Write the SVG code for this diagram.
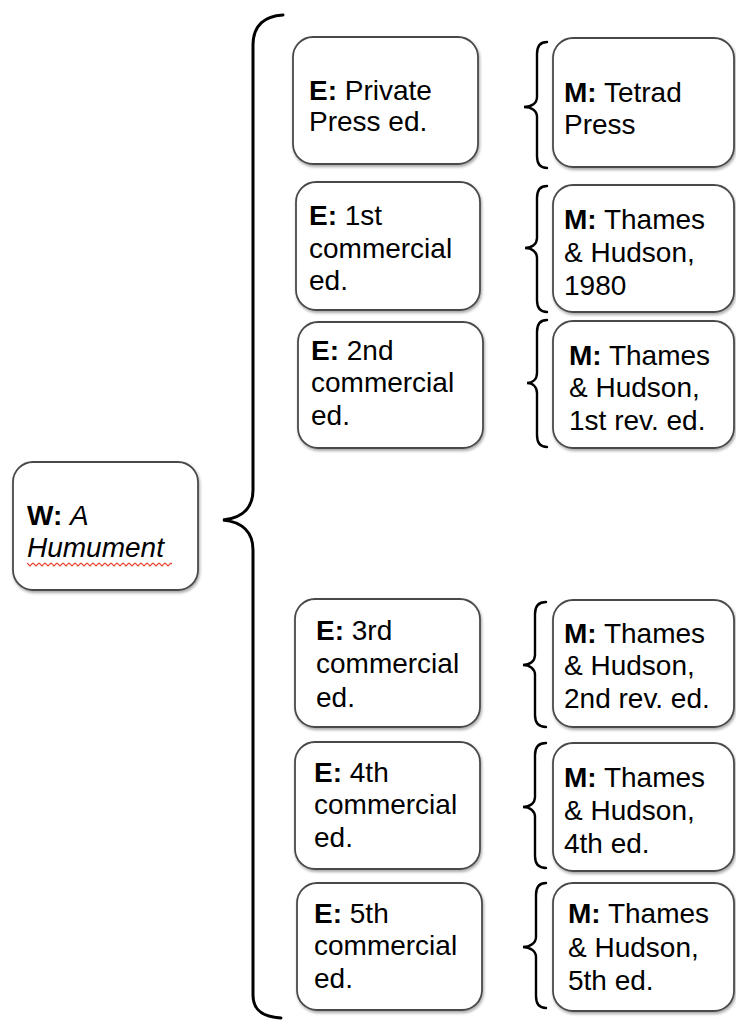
<svg xmlns="http://www.w3.org/2000/svg" width="736" height="1021" viewBox="0 0 736 1021">
<defs>
<filter id="sh" x="-10%" y="-10%" width="130%" height="130%">
<feGaussianBlur in="SourceAlpha" stdDeviation="1.5"/>
<feOffset dx="1" dy="2" result="b"/>
<feComponentTransfer><feFuncA type="linear" slope="0.35"/></feComponentTransfer>
<feMerge><feMergeNode/><feMergeNode in="SourceGraphic"/></feMerge>
</filter>
<pattern id="wave" x="27" y="562" width="6" height="5" patternUnits="userSpaceOnUse">
<path d="M0,1 L3,4 L6,1" fill="none" stroke="#e8402a" stroke-width="1.2"/>
</pattern>
</defs>
<style>
.box{fill:#fff;stroke:#4a4a4a;stroke-width:1.8;filter:url(#sh)}
.t{font-family:"Liberation Sans",Arial,sans-serif;font-size:28px;fill:#000}
.b{font-weight:bold}
.i{font-style:italic}
.br{fill:none;stroke:#000;stroke-width:3;stroke-linecap:round}
.sb{fill:none;stroke:#000;stroke-width:2.4;stroke-linecap:round}
</style>
<rect width="736" height="1021" fill="#fff"/>
<g id="connectors">
<path class="br" d="M283,15 C265,16 253,25 253,45 L253,490 C253,507 243,518 223,520 C243,522 253,533 253,550 L253,995 C253,1010 262,1017 281,1018"/>
<path class="sb" d="M547,42 C540,42 537,46 537,54 L537,97 C537,103 532,107 524,107 C532,107 537,111 537,117 L537,156 C537,164 540,168 547,168"/>
<path class="sb" d="M547,186 C540,186 537,190 537,198 L537,238 C537,244 532,248 525,248 C532,248 537,252 537,258 L537,300 C537,308 540,312 547,312"/>
<path class="sb" d="M547,320 C540,320 537,324 537,332 L537,373 C537,379 533,383 527,383 C533,383 537,387 537,393 L537,435 C537,443 540,447 547,447"/>
<path class="sb" d="M546,602 C539,602 535,606 535,614 L535,655 C535,661 530,665 523,665 C530,665 535,669 535,675 L535,715 C535,723 539,727 546,727"/>
<path class="sb" d="M546,743 C539,743 535,747 535,755 L535,797 C535,803 530,807 523,807 C530,807 535,811 535,817 L535,856 C535,864 539,868 546,868"/>
<path class="sb" d="M546,883 C539,883 536,887 536,895 L536,937 C536,943 530,947 523,947 C530,947 536,951 536,957 L536,996 C536,1004 539,1008 546,1008"/>
</g>
<g id="work">
<rect class="box" x="13" y="462" width="185" height="128" rx="20"/>
<text class="t" x="27" y="525"><tspan class="b">W:</tspan> <tspan class="i">A</tspan></text>
<text class="t i" x="27" y="557">Humument</text>
<rect x="27" y="562" width="145" height="5" fill="url(#wave)"/>
</g>
<g id="e1">
<rect class="box" x="293" y="37" width="185" height="127" rx="20"/>
<text class="t" x="309" y="100"><tspan class="b">E:</tspan> Private</text>
<text class="t" x="309" y="131">Press ed.</text>
</g>
<g id="e2">
<rect class="box" x="296" y="182" width="184" height="128" rx="20"/>
<text class="t" x="309" y="225"><tspan class="b">E:</tspan> 1st</text>
<text class="t" x="309" y="258">commercial</text>
<text class="t" x="309" y="290">ed.</text>
</g>
<g id="e3">
<rect class="box" x="298" y="322" width="185" height="126" rx="20"/>
<text class="t" x="311" y="360"><tspan class="b">E:</tspan> 2nd</text>
<text class="t" x="311" y="392">commercial</text>
<text class="t" x="311" y="425">ed.</text>
</g>
<g id="e4">
<rect class="box" x="295" y="599" width="185" height="128" rx="20"/>
<text class="t" x="316" y="640"><tspan class="b">E:</tspan> 3rd</text>
<text class="t" x="316" y="673">commercial</text>
<text class="t" x="316" y="707">ed.</text>
</g>
<g id="e5">
<rect class="box" x="295" y="742" width="185" height="127" rx="20"/>
<text class="t" x="314" y="782"><tspan class="b">E:</tspan> 4th</text>
<text class="t" x="314" y="814">commercial</text>
<text class="t" x="314" y="847">ed.</text>
</g>
<g id="e6">
<rect class="box" x="297" y="883" width="185" height="127" rx="20"/>
<text class="t" x="314" y="923"><tspan class="b">E:</tspan> 5th</text>
<text class="t" x="314" y="955">commercial</text>
<text class="t" x="314" y="988">ed.</text>
</g>
<g id="m1">
<rect class="box" x="553" y="38" width="181" height="129" rx="20"/>
<text class="t" x="564" y="102"><tspan class="b">M:</tspan> Tetrad</text>
<text class="t" x="564" y="134">Press</text>
</g>
<g id="m2">
<rect class="box" x="553" y="185" width="181" height="127" rx="20"/>
<text class="t" x="564" y="229"><tspan class="b">M:</tspan> Thames</text>
<text class="t" x="564" y="262">&amp; Hudson,</text>
<text class="t" x="564" y="295">1980</text>
</g>
<g id="m3">
<rect class="box" x="553" y="321" width="181" height="127" rx="20"/>
<text class="t" x="569" y="365"><tspan class="b">M:</tspan> Thames</text>
<text class="t" x="569" y="397">&amp; Hudson,</text>
<text class="t" x="569" y="430">1st rev. ed.</text>
</g>
<g id="m4">
<rect class="box" x="553" y="600" width="181" height="127" rx="20"/>
<text class="t" x="564" y="643"><tspan class="b">M:</tspan> Thames</text>
<text class="t" x="564" y="675">&amp; Hudson,</text>
<text class="t" x="564" y="708">2nd rev. ed.</text>
</g>
<g id="m5">
<rect class="box" x="553" y="743" width="181" height="128" rx="20"/>
<text class="t" x="564" y="787"><tspan class="b">M:</tspan> Thames</text>
<text class="t" x="564" y="820">&amp; Hudson,</text>
<text class="t" x="564" y="853">4th ed.</text>
</g>
<g id="m6">
<rect class="box" x="553" y="883" width="181" height="128" rx="20"/>
<text class="t" x="568" y="923"><tspan class="b">M:</tspan> Thames</text>
<text class="t" x="568" y="957">&amp; Hudson,</text>
<text class="t" x="568" y="990">5th ed.</text>
</g>
</svg>
